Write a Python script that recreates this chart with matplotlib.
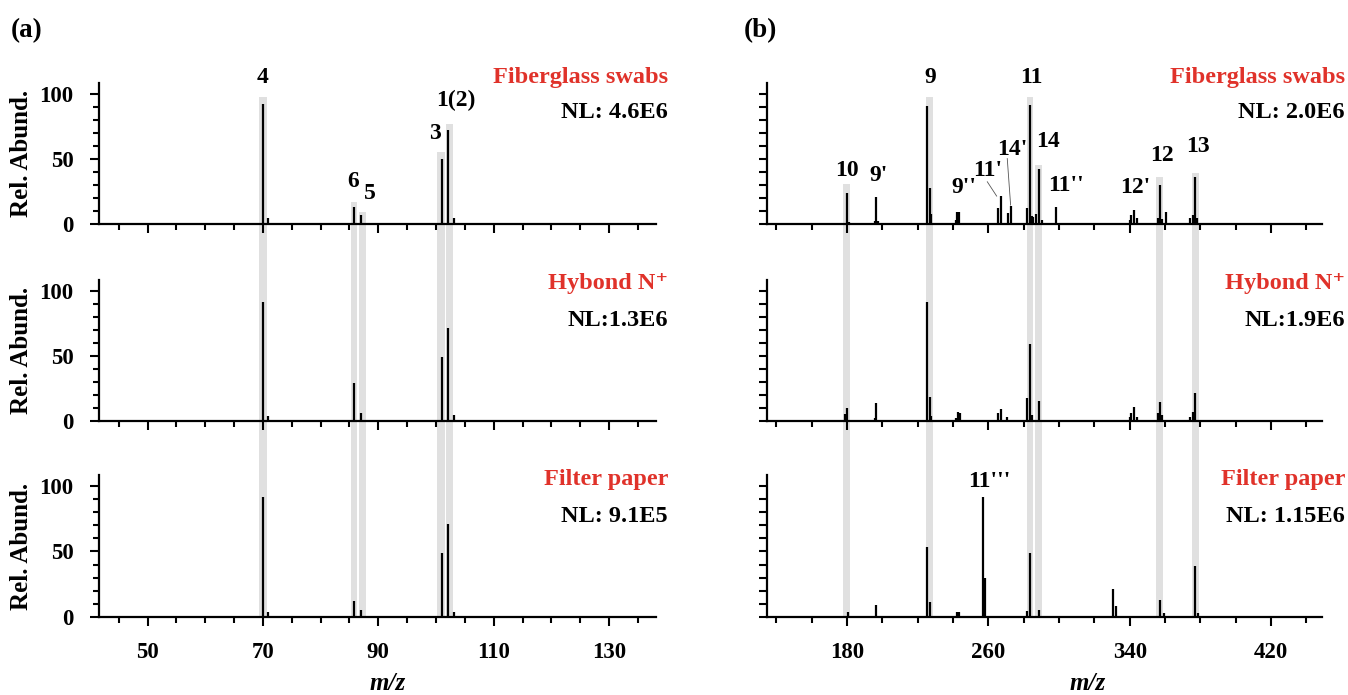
import matplotlib
matplotlib.use("Agg")
import matplotlib.pyplot as plt
from matplotlib import transforms
from matplotlib.patches import Rectangle
from matplotlib.ticker import MultipleLocator, FixedLocator

plt.rcParams['font.family'] = ['Liberation Serif', 'DejaVu Serif']
plt.rcParams['font.weight'] = 'bold'

RED = '#e0322a'
BAND = '#e0e0e0'
YMAX = 108.5

# ---- panel (a): low m/z range, same m/z list for all three samples
a_mz = [70.0, 70.9, 85.8, 87.0, 101.1, 102.1, 103.2]
a_fiber = [92.0, 4.5, 13.2, 6.9, 49.6, 71.8, 4.5]
a_hybond = [91.6, 3.8, 28.9, 5.9, 48.9, 71.1, 4.6]
a_filter = [91.5, 3.4, 12.0, 5.1, 48.7, 71.1, 3.9]

a_band_lo = [69.35, 85.2, 86.6, 100.2, 101.75]
a_band_hi = [70.65, 86.35, 87.9, 101.6, 103.0]
a_band_top = [97.7, 16.8, 9.2, 55.1, 76.5]

a_labels = ['4', '6', '5', '3', '1(2)']
a_label_mz = [70.0, 85.7, 88.5, 99.8, 103.4]
a_label_y = [112.5, 32.4, 23.5, 69.6, 94.9]

# ---- panel (b): high m/z range
b_fiber_mz = [180.2, 181.0, 195.8, 196.6, 197.5, 225.5, 226.8, 227.7, 241.6, 242.3, 243.0,
              243.6, 265.6, 267.0, 271.3, 272.6, 282.1, 283.3, 284.5, 285.5, 286.8, 288.5,
              290.2, 298.1, 340.1, 340.8, 342.5, 343.9, 355.9, 357.2, 358.5, 360.4, 374.2,
              375.7, 377.2, 378.3]
b_fiber = [23.5, 1.5, 2.5, 20.9, 2.5, 90.8, 27.5, 8.0, 3.0, 9.5, 9.5,
           9.5, 12.0, 21.4, 8.2, 13.8, 12.0, 91.6, 6.0, 5.0, 8.0, 42.4,
           3.0, 13.3, 3.0, 6.9, 10.7, 4.6, 4.6, 30.3, 3.5, 9.4, 4.6,
           6.9, 36.2, 4.6]

b_hybond_mz = [178.9, 180.2, 195.8, 196.6, 225.5, 226.8, 227.7, 241.6, 242.6, 243.7, 265.6,
               267.0, 270.4, 282.1, 283.3, 284.5, 288.5, 340.1, 340.8, 342.5, 343.9, 355.9,
               357.2, 358.5, 374.2, 375.7, 377.2]
b_hybond = [5.1, 10.2, 2.0, 14.1, 91.6, 18.2, 3.8, 2.6, 7.2, 5.9, 5.9,
            9.0, 2.8, 17.4, 58.9, 4.6, 15.6, 2.8, 6.4, 10.5, 3.3, 5.9,
            14.8, 4.6, 3.3, 7.2, 21.2]

b_filter_mz = [180.4, 196.6, 225.5, 226.8, 242.3, 243.2, 256.8, 257.5, 258.3, 282.1, 283.3,
               288.5, 330.8, 332.2, 357.2, 359.5, 377.2, 378.4]
b_filter = [3.8, 9.0, 53.4, 11.3, 3.8, 3.3, 91.5, 4.0, 29.8, 4.0, 48.7,
            5.0, 21.3, 8.5, 12.8, 3.0, 38.8, 3.0]

b_band_lo = [177.9, 224.7, 281.7, 286.4, 354.9, 375.3]
b_band_hi = [181.7, 228.5, 285.5, 290.2, 358.7, 379.1]
b_band_top = [30.6, 97.7, 97.7, 45.1, 35.7, 39.5]

b_labels = ['10', "9'", '9', "9''", "11'", "14'", '11', '14', "11''", "12'", '12', '13']
b_label_mz = [180.0, 197.6, 226.9, 246.0, 259.9, 273.6, 284.1, 294.0, 303.9, 342.9, 358.3, 378.8]
b_label_y = [41.3, 37.5, 112.2, 27.8, 41.3, 57.1, 112.2, 63.5, 29.8, 27.8, 52.8, 59.7]

# leader lines (label -> peak) for 11' and 14'
lead_mz = [(259.4, 264.7), (270.7, 272.6)]
lead_y = [(32.4, 21.4), (50.2, 14.5)]

samples = ['Fiberglass swabs', 'Hybond N\u207a', 'Filter paper']
a_nl = ['NL: 4.6E6', 'NL:1.3E6', 'NL: 9.1E5']
b_nl = ['NL: 2.0E6', 'NL:1.9E6', 'NL: 1.15E6']

W, H = 1348, 695
fig = plt.figure(figsize=(W / 100, H / 100), dpi=100)

rows_bottom = [0.6777, 0.3942, 0.1127]
row_h = 0.2035
left_pos = (0.0735, 0.4134)
right_pos = (0.5691, 0.4113)

axes_a, axes_b = [], []
for rb in rows_bottom:
    axes_a.append(fig.add_axes([left_pos[0], rb, left_pos[1], row_h]))
    axes_b.append(fig.add_axes([right_pos[0], rb, right_pos[1], row_h]))


def style(ax, xlim, side):
    ax.set_facecolor('none')
    ax.set_xlim(*xlim)
    ax.set_ylim(0, YMAX)
    for s in ['top', 'right']:
        ax.spines[s].set_visible(False)
    for s in ['left', 'bottom']:
        ax.spines[s].set_linewidth(1.6)
    ax.tick_params(axis='both', which='major', direction='out', width=1.5,
                   length=6.5, labelsize=16.5, pad=12)
    ax.tick_params(axis='both', which='minor', direction='out', width=1.5, length=4.5)
    if side == 'a':
        ax.xaxis.set_major_locator(FixedLocator([50, 70, 90, 110, 130]))
        ax.xaxis.set_minor_locator(MultipleLocator(5))
        ax.yaxis.set_major_locator(FixedLocator([0, 50, 100]))
        ax.yaxis.set_minor_locator(MultipleLocator(10))
        ax.set_ylabel('Rel. Abund.', fontsize=18, fontweight='bold')
        ax.yaxis.set_label_coords(-0.118, 0.5)
    else:
        ax.xaxis.set_major_locator(FixedLocator([180, 260, 340, 420]))
        ax.xaxis.set_minor_locator(MultipleLocator(20))
        ax.yaxis.set_major_locator(MultipleLocator(10))
        ax.tick_params(axis='y', which='major', length=5.5, labelleft=False)


a_data = [a_fiber, a_hybond, a_filter]
b_data = [(b_fiber_mz, b_fiber), (b_hybond_mz, b_hybond), (b_filter_mz, b_filter)]

for i in range(3):
    ax = axes_a[i]
    style(ax, (41.6, 138.2), 'a')
    ax.vlines(a_mz, 0, a_data[i], color='black', lw=1.6)
    axb = axes_b[i]
    style(axb, (134.8, 448.6), 'b')
    axb.vlines(b_data[i][0], 0, b_data[i][1], color='black', lw=1.6)
    if i < 2:
        ax.tick_params(axis='x', which='both', labelbottom=False)
        axb.tick_params(axis='x', which='both', labelbottom=False)

# grey bands running through all three rows
def add_bands(ax_top, ax_bot, lo, hi, top):
    tr = transforms.blended_transform_factory(ax_bot.transData, fig.transFigure)
    y0 = rows_bottom[2]
    for l, h, t in zip(lo, hi, top):
        yt = rows_bottom[0] + row_h * t / YMAX
        fig.add_artist(Rectangle((l, y0), h - l, yt - y0, transform=tr,
                                 facecolor=BAND, edgecolor='none', zorder=-1))

add_bands(axes_a[0], axes_a[2], a_band_lo, a_band_hi, a_band_top)
add_bands(axes_b[0], axes_b[2], b_band_lo, b_band_hi, b_band_top)

# peak labels
for t, x, y in zip(a_labels, a_label_mz, a_label_y):
    axes_a[0].text(x, y, t, ha='center', va='center', fontsize=17, fontweight='bold')
for t, x, y in zip(b_labels, b_label_mz, b_label_y):
    axes_b[0].text(x, y, t, ha='center', va='center', fontsize=17, fontweight='bold')
for xs, ys in zip(lead_mz, lead_y):
    axes_b[0].plot(xs, ys, color='#555555', lw=0.6)
axes_b[2].text(260.4, 103.8, "11'''", ha='center', va='center', fontsize=17, fontweight='bold')

# sample names and normalisation levels
name_y = [78, 283, 480]
nl_y = [113, 320, 517]
for i in range(3):
    for xr, nl in ((668, a_nl[i]), (1345, b_nl[i])):
        fig.text(xr / W, 1 - name_y[i] / H, samples[i], ha='right', va='center',
                 color=RED, fontsize=17.5, fontweight='bold')
        fig.text(xr / W, 1 - nl_y[i] / H, nl, ha='right', va='center',
                 fontsize=17.5, fontweight='bold')

fig.text(27 / W, 1 - 31 / H, '(a)', ha='center', va='center', fontsize=19.5, fontweight='bold')
fig.text(760 / W, 1 - 31 / H, '(b)', ha='center', va='center', fontsize=19.5, fontweight='bold')

fig.text(388 / W, 1 - 684 / H, 'm/z', ha='center', va='center', fontsize=18,
         fontweight='bold', style='italic')
fig.text(1088 / W, 1 - 684 / H, 'm/z', ha='center', va='center', fontsize=18,
         fontweight='bold', style='italic')

fig.savefig('out.png', dpi=100)
